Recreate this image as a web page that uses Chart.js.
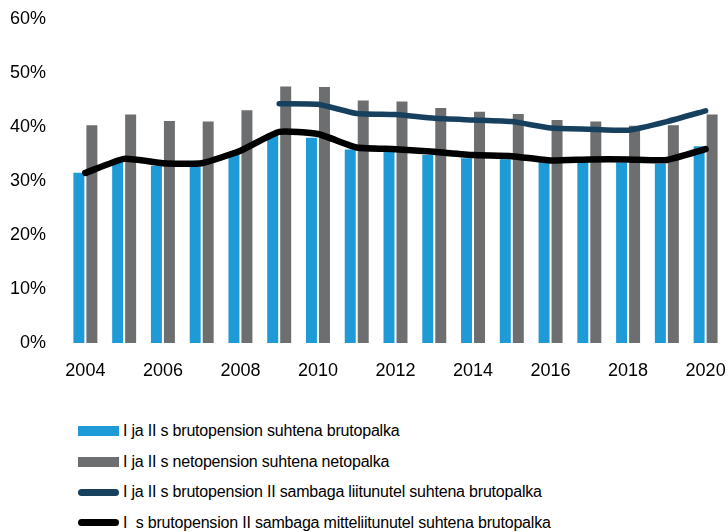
<!DOCTYPE html>
<html>
<head>
<meta charset="utf-8">
<script src="https://cdn.jsdelivr.net/npm/chart.js@4"></script>
<style>
  body { margin: 0; background: #fff; }
  #wrap { position: relative; width: 728px; height: 532px; }
  #box { position: absolute; left: 0; top: 0; width: 728px; height: 390px; }
  #legend { position: absolute; left: 78px; top: 416px; font-family: "Liberation Sans", Arial, sans-serif; font-size: 16px; letter-spacing: -0.2px; color: #000; }
  .item { display: flex; align-items: center; height: 30.5px; white-space: pre; }
  .sw { width: 41px; margin-right: 4px; flex: none; }
</style>
</head>
<body>
<div id="wrap">
  <div id="box"><canvas id="chart"></canvas></div>
  <div id="legend"></div>
</div>
<script>
const years = ["2004","2005","2006","2007","2008","2009","2010","2011","2012","2013","2014","2015","2016","2017","2018","2019","2020"]
const grossPension = [31.7, 34.1, 33.0, 32.8, 35.4, 39.0, 38.2, 36.0, 35.6, 35.0, 34.4, 34.2, 33.6, 33.6, 33.6, 33.4, 36.6]
const netPension = [40.5, 42.5, 41.3, 41.2, 43.3, 47.7, 47.6, 45.1, 44.9, 43.7, 43.0, 42.6, 41.5, 41.2, 40.4, 40.5, 42.5]
const joinedPillar2 = [null, null, null, null, null, 44.3, 44.2, 42.5, 42.3, 41.6, 41.3, 41.0, 39.8, 39.6, 39.4, 41.0, 43.0]
const notJoinedPillar2 = [31.5, 34.1, 33.3, 33.3, 35.6, 39.1, 38.7, 36.2, 35.9, 35.4, 34.8, 34.6, 33.8, 34.0, 34.0, 33.9, 35.9]
const yTicks = [0, 10, 20, 30, 40, 50, 60]

const font = { family: "'Liberation Sans', Arial, sans-serif", size: 18 }

const datasets = [
    {
        type: "bar",
        label: "I ja II s brutopension suhtena brutopalka",
        data: grossPension,
        backgroundColor: "#1e9ad6",
        borderColor: "rgba(255,255,255,0.45)",
        borderWidth: 1,
        order: 2
    },
    {
        type: "bar",
        label: "I ja II s netopension suhtena netopalka",
        data: netPension,
        backgroundColor: "#6d6e70",
        borderColor: "rgba(255,255,255,0.45)",
        borderWidth: 1,
        order: 2
    },
    {
        type: "line",
        label: "I ja II s brutopension II sambaga liitunutel suhtena brutopalka",
        data: joinedPillar2,
        borderColor: "#17405e",
        borderWidth: 5.5,
        borderCapStyle: "round",
        borderJoinStyle: "round",
        pointRadius: 0,
        tension: 0.15,
        spanGaps: false,
        order: 1
    },
    {
        type: "line",
        label: "I  s brutopension II sambaga mitteliitunutel suhtena brutopalka",
        data: notJoinedPillar2,
        borderColor: "#000000",
        borderWidth: 6.5,
        borderCapStyle: "round",
        borderJoinStyle: "round",
        pointRadius: 0,
        tension: 0.15,
        order: 0
    }
]

const chart = new Chart(document.getElementById("chart").getContext("2d"), {
    data: { labels: years, datasets: datasets },
    options: {
        responsive: true,
        maintainAspectRatio: false,
        animation: false,
        layout: { padding: { top: 19, right: 3, left: 0, bottom: 0 } },
        plugins: {
            legend: { display: false },
            tooltip: { enabled: false }
        },
        datasets: {
            bar: { categoryPercentage: 0.67, barPercentage: 1 }
        },
        scales: {
            x: {
                grid: { display: false, drawTicks: false },
                border: { display: false },
                ticks: {
                    autoSkip: false,
                    maxRotation: 0,
                    color: "#000",
                    font: font,
                    padding: 17,
                    callback: (v, i) => i % 2 === 0 ? years[i] : ""
                },
                afterFit: (scale) => {
                    scale.height = 47
                    scale.paddingLeft = 0
                    scale.paddingRight = 0
                }
            },
            y: {
                min: 0,
                max: 60,
                grid: { display: false, drawTicks: false },
                border: { display: false },
                afterBuildTicks: (scale) => { scale.ticks = yTicks.map(v => ({ value: v })) },
                ticks: {
                    color: "#000",
                    font: font,
                    padding: 20,
                    callback: (v) => v + "%"
                },
                afterFit: (scale) => {
                    scale.width = 66
                    scale.paddingTop = 0
                    scale.paddingBottom = 0
                }
            }
        }
    }
})

const legend = document.getElementById("legend")
datasets.forEach((ds) => {
    const item = document.createElement("div")
    item.className = "item"
    const sw = document.createElement("span")
    sw.className = "sw"
    if (ds.type === "bar") {
        sw.style.height = "10px"
        sw.style.background = ds.backgroundColor
    } else {
        sw.style.height = "7px"
        sw.style.borderRadius = "4px"
        sw.style.background = ds.borderColor
    }
    const txt = document.createElement("span")
    txt.textContent = ds.label
    item.appendChild(sw)
    item.appendChild(txt)
    legend.appendChild(item)
})
</script>
</body>
</html>
